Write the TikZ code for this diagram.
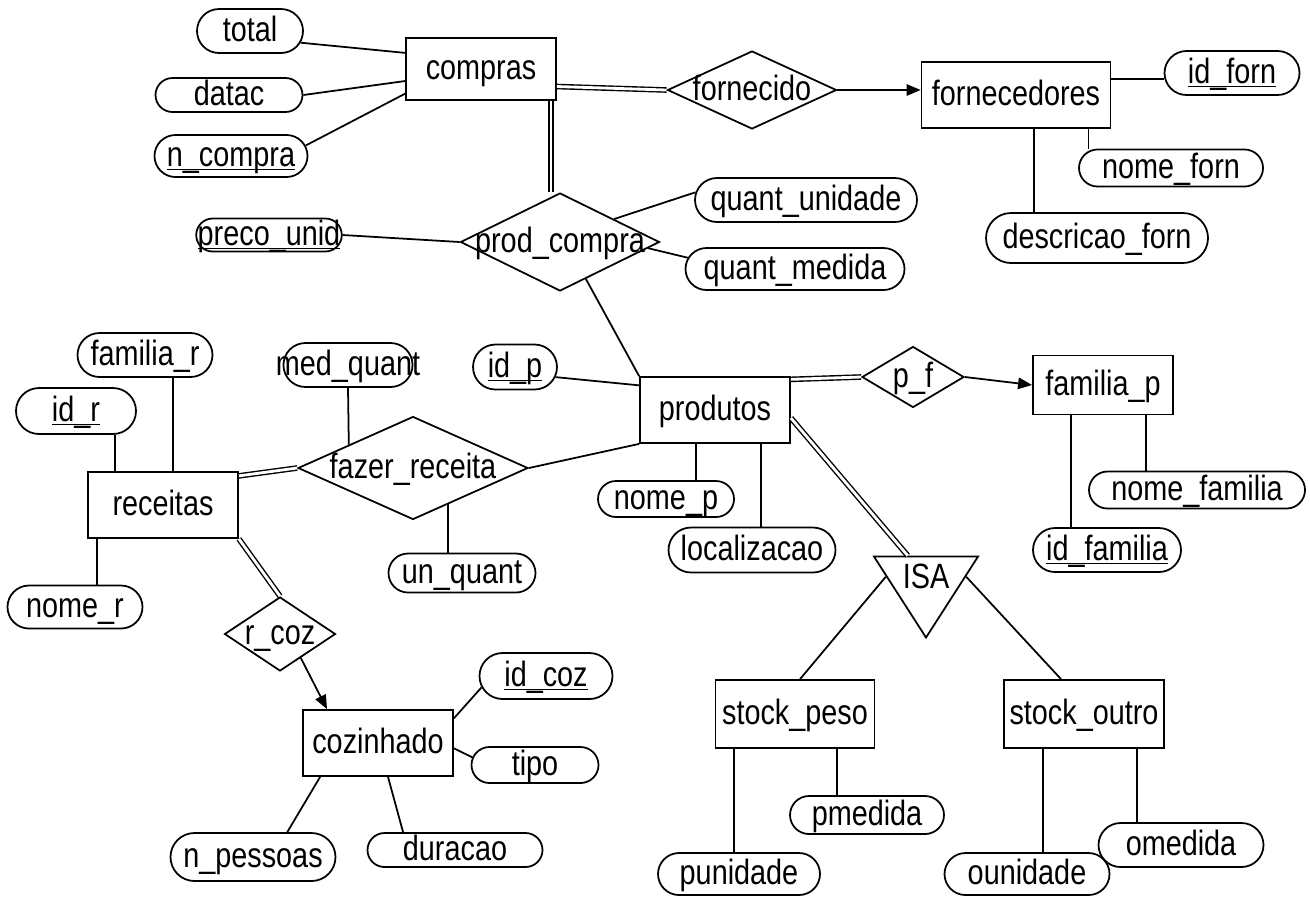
\documentclass[tikz,border=0pt]{standalone}
\usepackage{fontspec}
\setmainfont{Liberation Sans}[FakeStretch=0.82]
\usetikzlibrary{calc, shapes.geometric, shapes.misc, arrows.meta}

\newcommand{\keyattr}[1]{\underline{\smash{#1}}}

\begin{document}
\begin{tikzpicture}[
        x=0.02cm, y=-0.02cm,
        font=\fontsize{20}{24}\selectfont,
        txt/.style={text height=0.54cm, text depth=0.12cm},
        ent/.style 2 args={
            rectangle, draw, line width=1pt, txt,
            minimum width=#1*0.02cm, minimum height=#2*0.02cm, inner sep=0pt
        },
        attr/.style 2 args={
            rounded rectangle, draw, line width=1pt, txt,
            minimum width=(#1-30)*0.02cm, minimum height=#2*0.02cm,
            inner ysep=0pt, inner xsep=-0.3cm
        },
        rel/.style n args={3}{
            diamond, draw, line width=1pt,
            minimum width=#1*0.02cm, minimum height=#2*0.02cm, inner sep=0pt,
            label={[txt]center:{#3}}
        },
        isa/.style={
            isosceles triangle, draw, line width=1pt,
            shape border rotate=270, isosceles triangle stretches,
            minimum width=104*0.02cm, minimum height=77*0.02cm, inner sep=0pt
        },
        line/.style={draw, line width=1pt},
        dline/.style={draw, line width=0.8pt, double, double distance=1.6pt},
        arr/.style={draw, line width=1pt, -{Triangle[length=8pt, width=6.5pt]}}
    ]
    \useasboundingbox (0,0) rectangle (1310,897);

    \node [ent={150}{62}] (compras) at (481,69) {compras};
    \node [ent={189}{66}] (fornecedores) at (1016,95) {fornecedores};
    \node [ent={150}{66}] (produtos) at (715,410) {produtos};
    \node [ent={140}{59}] (familiap) at (1103,385) {familia\_p};
    \node [ent={150}{66}] (receitas) at (163,505) {receitas};
    \node [ent={150}{66}] (cozinhado) at (378,743) {cozinhado};
    \node [ent={159}{68}] (stockpeso) at (795,714) {stock\_peso};
    \node [ent={160}{68}] (stockoutro) at (1084,714) {stock\_outro};

    \node [rel={169}{78}{fornecido}] (fornecido) at (752,90) {};
    \node [rel={199}{98}{prod\_compra}] (prodcompra) at (560,242) {};
    \node [rel={102}{61}{p\_f}] (pf) at (913,377) {};
    \node [rel={230}{103}{fazer\_receita}] (fazerreceita) at (413,468) {};
    \node [rel={111}{74}{r\_coz}] (rcoz) at (280,634) {};
    \node [isa] (isa) at (926,576) {ISA};

    \node [attr={106}{44}] (total) at (250,31) {total};
    \node [attr={147}{34}] (datac) at (229,95) {datac};
    \node [attr={153}{42}] (ncompra) at (231,156) {\keyattr{n\_compra}};
    \node [attr={135}{44}] (idforn) at (1232,73) {\keyattr{id\_forn}};
    \node [attr={184}{37}] (nomeforn) at (1171,168) {nome\_forn};
    \node [attr={222}{50}] (descricaoforn) at (1097,238) {descricao\_forn};
    \node [attr={222}{44}] (quantunidade) at (806,200) {quant\_unidade};
    \node [attr={219}{42}] (quantmedida) at (795,269) {quant\_medida};
    \node [attr={174}{32}] (precounid) at (269,235) {\keyattr{preco\_unid}};
    \node [attr={135}{44}] (familiar) at (145,355) {familia\_r};
    \node [attr={120}{46}] (idr) at (76,411) {\keyattr{id\_r}};
    \node [attr={155}{44}] (medquant) at (348,365) {med\_quant};
    \node [attr={84}{45}] (idp) at (515,367) {\keyattr{id\_p}};
    \node [attr={136}{36}] (nomep) at (666,499) {nome\_p};
    \node [attr={167}{45}] (localizacao) at (752,550) {localizacao};
    \node [attr={147}{39}] (unquant) at (462,573) {un\_quant};
    \node [attr={216}{37}] (nomefamilia) at (1197,490) {nome\_familia};
    \node [attr={148}{44}] (idfamilia) at (1107,550) {\keyattr{id\_familia}};
    \node [attr={135}{43}] (nomer) at (75,607) {nome\_r};
    \node [attr={133}{46}] (idcoz) at (546,676) {\keyattr{id\_coz}};
    \node [attr={127}{36}] (tipo) at (535,765) {tipo};
    \node [attr={165}{48}] (npessoas) at (253,857) {n\_pessoas};
    \node [attr={175}{34}] (duracao) at (455,850) {duracao};
    \node [attr={154}{38}] (pmedida) at (867,815) {pmedida};
    \node [attr={162}{42}] (punidade) at (739,874) {punidade};
    \node [attr={165}{44}] (omedida) at (1181,845) {omedida};
    \node [attr={165}{42}] (ounidade) at (1027,874) {ounidade};

    \draw [line] (total.-13) -- (compras.168);
    \draw [line] (datac.east) -- (compras.189);
    \draw [line] (ncompra.8) -- (compras.198);
    \draw [dline] (compras.-13) -- (fornecido.west);
    \draw [arr] (fornecido.east) -- (fornecido.east -| fornecedores.west);
    \draw [line] (idforn.185) -- (idforn.185 -| fornecedores.east);
    \draw [line] ([xshift=-0.46cm]fornecedores.south east) -- ([xshift=-0.46cm]fornecedores.south east |- nomeforn.north);
    \draw [line] ([xshift=0.36cm]fornecedores.south) -- ([xshift=0.36cm]fornecedores.south |- descricaoforn.north);

    \draw [dline] ([xshift=1.4cm]compras.south) -- ([xshift=1.4cm]compras.south |- prodcompra.north);
    \draw [line] (prodcompra.23) -- (quantunidade.176);
    \draw [line] (prodcompra.-4) -- (quantmedida.174);
    \draw [line] (precounid.east) -- (prodcompra.west);
    \draw [line] (prodcompra.-55) -- (produtos.north west);

    \draw [line] (idp.-14) -- (produtos.162);
    \draw [dline] (produtos.22) -- (pf.west);
    \draw [arr] (pf.east) -- (familiap.west);
    \draw [line] ([xshift=0.86cm]familiap.south) -- ([xshift=0.86cm]familiap.south |- nomefamilia.north);
    \draw [line] ([xshift=-0.64cm]familiap.south) -- ([xshift=-0.64cm]familiap.south |- idfamilia.north);
    \draw [line] ([xshift=-0.38cm]produtos.south) -- ([xshift=-0.38cm]produtos.south |- nomep.north);
    \draw [line] ([xshift=0.92cm]produtos.south) -- ([xshift=0.92cm]produtos.south |- localizacao.north);

    \draw [dline] (produtos.-6) -- ($(isa.right corner)!0.33!(isa.left corner)$);
    \draw [line] ($(isa.right corner)!0.25!(isa.apex)$) -- ([xshift=0.1cm]stockpeso.north);
    \draw [line] ($(isa.left corner)!0.25!(isa.apex)$) -- ([xshift=-0.46cm]stockoutro.north);
    \draw [line] ([xshift=-1.22cm]stockpeso.south) -- ([xshift=-1.22cm]stockpeso.south |- punidade.north);
    \draw [line] ([xshift=0.84cm]stockpeso.south) -- ([xshift=0.84cm]stockpeso.south |- pmedida.north);
    \draw [line] ([xshift=-0.82cm]stockoutro.south) -- ([xshift=-0.82cm]stockoutro.south |- ounidade.north);
    \draw [line] ([xshift=1.06cm]stockoutro.south) -- ([xshift=1.06cm]stockoutro.south |- omedida.north);

    \draw [line] (produtos.south west) -- (fazerreceita.east);
    \draw [line] (medquant.south) -- (fazerreceita.160);
    \draw [line] (fazerreceita.-46) -- (fazerreceita.-46 |- unquant.north);
    \draw [dline] (receitas.21) -- (fazerreceita.west);
    \draw [line] ([xshift=-0.96cm]receitas.north) -- ([xshift=-0.96cm]receitas.north |- idr.south);
    \draw [line] ([xshift=0.2cm]receitas.north) -- ([xshift=0.2cm]receitas.north |- familiar.south);
    \draw [line] ([xshift=-1.32cm]receitas.south) -- ([xshift=-1.32cm]receitas.south |- nomer.north);
    \draw [dline] (receitas.south east) -- (rcoz.north);

    \draw [arr] (rcoz.-49) -- ([xshift=-1.02cm]cozinhado.north);
    \draw [line] (cozinhado.18) -- (idcoz.190);
    \draw [line] (cozinhado.-4) -- (tipo.173);
    \draw [line] ([xshift=0.36cm]cozinhado.south west) -- (npessoas.36);
    \draw [line] ([xshift=0.2cm]cozinhado.south) -- (duracao.161);

\end{tikzpicture}
\end{document}
